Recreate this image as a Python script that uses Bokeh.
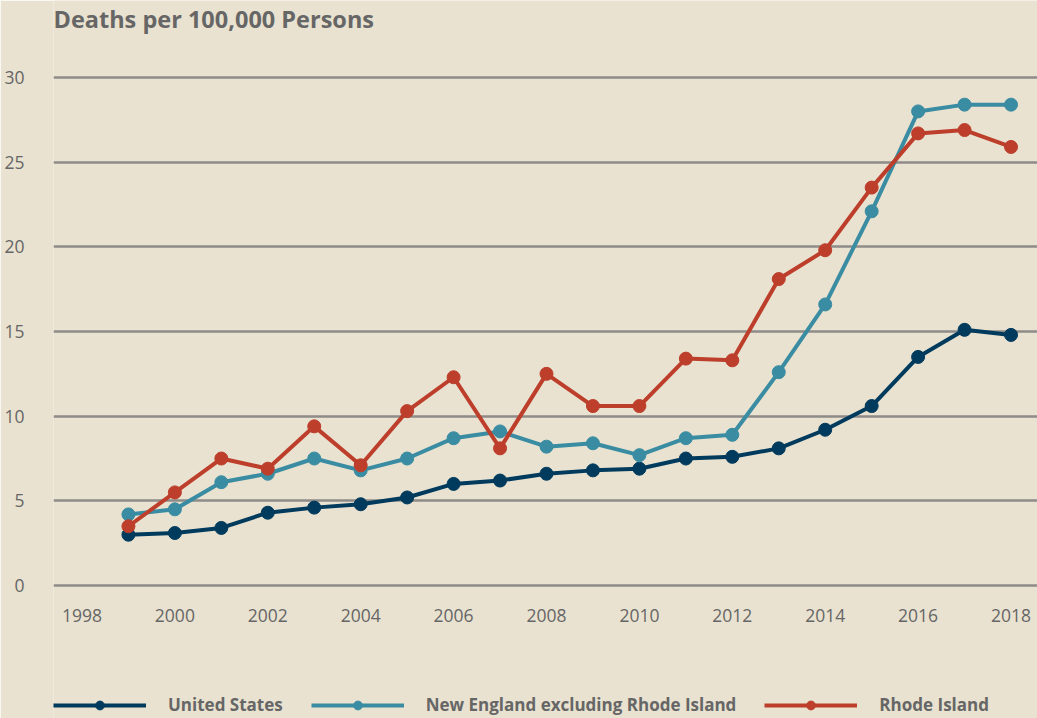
from bokeh.plotting import figure
from bokeh.models import Label, Legend, LegendItem, FixedTicker, Range1d
from bokeh.embed import file_html
from bokeh.resources import INLINE

years = list(range(1999, 2019))
united_states = [3.0, 3.1, 3.4, 4.3, 4.6, 4.8, 5.2, 6.0, 6.2, 6.6,
                 6.8, 6.9, 7.5, 7.6, 8.1, 9.2, 10.6, 13.5, 15.1, 14.8]
new_england_ex_ri = [4.2, 4.5, 6.1, 6.6, 7.5, 6.8, 7.5, 8.7, 9.1, 8.2,
                     8.4, 7.7, 8.7, 8.9, 12.6, 16.6, 22.1, 28.0, 28.4, 28.4]
rhode_island = [3.5, 5.5, 7.5, 6.9, 9.4, 7.1, 10.3, 12.3, 8.1, 12.5,
                10.6, 10.6, 13.4, 13.3, 18.1, 19.8, 23.5, 26.7, 26.9, 25.9]
series_names = ["United States", "New England excluding Rhode Island", "Rhode Island"]
x_ticks = list(range(1998, 2019, 2))
y_ticks = [0, 5, 10, 15, 20, 25, 30]
title_text = "Deaths per 100,000 Persons"

BG = "#E9E2D0"
GRID = "#8E8C88"
TXT = "#666666"
colors = ["#003A5D", "#3A8CA2", "#BC3E2B"]
FONT = "Open Sans"

p = figure(width=1037, height=718, output_backend="svg", toolbar_location=None,
           x_range=Range1d(1997.387, 2018.570), y_range=Range1d(-7.854, 34.55),
           min_border_left=53, min_border_right=0, min_border_top=0, min_border_bottom=0)
p.background_fill_color = BG
p.border_fill_color = BG
p.outline_line_color = None

p.xgrid.grid_line_color = None
p.ygrid.grid_line_color = GRID
p.ygrid.grid_line_width = 2.5
p.ygrid.ticker = FixedTicker(ticks=y_ticks)

p.xaxis.ticker = FixedTicker(ticks=x_ticks)
p.yaxis.ticker = FixedTicker(ticks=y_ticks)
p.xaxis.fixed_location = 0
for ax in (p.xaxis, p.yaxis):
    ax.axis_line_color = None
    ax.major_tick_line_color = None
    ax.minor_tick_line_color = None
    ax.major_label_text_font = FONT
    ax.major_label_text_font_size = "17.5px"
    ax.major_label_text_color = TXT
p.xaxis.major_label_standoff = 17
p.yaxis.major_label_standoff = 23

items = []
for name, vals, c in zip(series_names, [united_states, new_england_ex_ri, rhode_island], colors):
    lr = p.line(years, vals, line_color=c, line_width=4)
    sr = p.scatter(years, vals, size=13, fill_color=c, line_color=c, marker="circle")
    items.append(LegendItem(label=name, renderers=[lr, sr]))

legend = Legend(items=items, orientation="horizontal", location=(0, 2),
                glyph_width=93, glyph_height=22, label_standoff=22, spacing=28,
                padding=0, margin=0, background_fill_alpha=0, border_line_color=None,
                label_text_font=FONT, label_text_font_size="17px",
                label_text_font_style="bold", label_text_color=TXT)
p.add_layout(legend, "center")

title = Label(x=0, y=700, x_units="screen", y_units="screen", text=title_text,
              text_font=FONT, text_font_size="23.5px", text_font_style="bold",
              text_color=TXT, text_baseline="middle", text_align="left")
p.add_layout(title)

open("out.html", "w").write(file_html(p, INLINE))
